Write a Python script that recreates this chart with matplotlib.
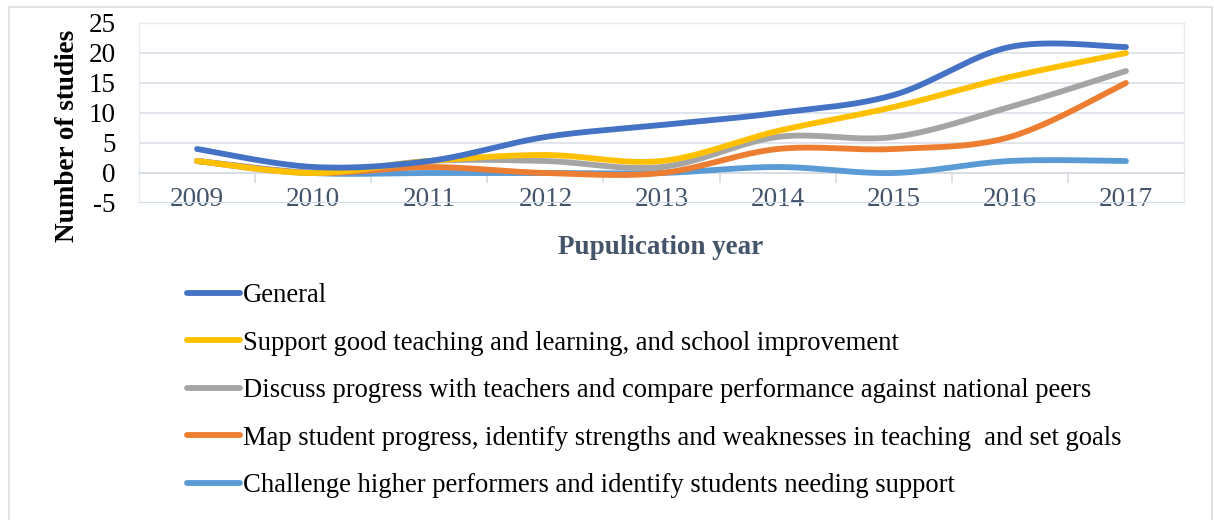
import numpy as np
import matplotlib
matplotlib.use("Agg")
import matplotlib.pyplot as plt
from matplotlib.patches import Rectangle
from matplotlib.ticker import FixedLocator

years = ["2009", "2010", "2011", "2012", "2013", "2014", "2015", "2016", "2017"]
general = [4, 1, 2, 6, 8, 10, 13, 21, 21]
support = [2, 0, 2, 3, 2, 7, 11, 16, 20]
discuss = [2, 0, 2, 2, 1, 6, 6, 11, 17]
mapping = [2, 0, 1, 0, 0, 4, 4, 6, 15]
challenge = [2, 0, 0, 0, 0, 1, 0, 2, 2]

labels = [
    "General",
    "Support good teaching and learning, and school improvement",
    "Discuss progress with teachers and compare performance against national peers",
    "Map student progress, identify strengths and weaknesses in teaching  and set goals",
    "Challenge higher performers and identify students needing support",
]
series = [general, support, discuss, mapping, challenge]
colors = ["#4472C4", "#FFC000", "#A5A5A5", "#ED7D31", "#5B9BD5"]


def smooth(y, n=40):
    y = np.asarray(y, float)
    x = np.arange(len(y), dtype=float)
    xs, ys = [], []
    for i in range(len(y) - 1):
        p0 = np.array([x[max(i - 1, 0)], y[max(i - 1, 0)]])
        p1 = np.array([x[i], y[i]])
        p2 = np.array([x[i + 1], y[i + 1]])
        p3 = np.array([x[min(i + 2, len(y) - 1)], y[min(i + 2, len(y) - 1)]])
        c1 = p1 + (p2 - p0) / 6.0
        c2 = p2 - (p3 - p1) / 6.0
        t = np.linspace(0, 1, n)[:, None]
        b = ((1 - t) ** 3) * p1 + 3 * ((1 - t) ** 2) * t * c1 + 3 * (1 - t) * t ** 2 * c2 + t ** 3 * p2
        xs.append(b[:, 0]); ys.append(b[:, 1])
    return np.concatenate(xs), np.concatenate(ys)


plt.rcParams["font.family"] = ["Liberation Serif", "DejaVu Serif"]
plt.rcParams["axes.unicode_minus"] = False
W, H = 1214, 520
fig = plt.figure(figsize=(W / 100, H / 100), dpi=100)
fig.patches.append(Rectangle((9 / W, -0.05), (1212 - 9) / W, 1 - 7 / H + 0.05,
                             transform=fig.transFigure, fill=False,
                             edgecolor="#D9DEE4", linewidth=1.2))

ax = fig.add_axes([139 / W, 1 - 203 / H, (1184 - 139) / W, (203 - 23) / H])
ax.set_xlim(-0.5, len(years) - 0.5)
ax.set_ylim(-5, 25)
ax.set_yticks(np.arange(-5, 26, 5))
ax.grid(axis="y", color="#DDE3EA", linewidth=1.3)
ax.set_axisbelow(True)
for s in ["top", "right", "left"]:
    ax.spines[s].set_color("#E6EBF0")
    ax.spines[s].set_linewidth(1)
ax.spines["bottom"].set_position(("data", 0))
ax.spines["bottom"].set_color("#D9DEE4")
ax.spines["bottom"].set_linewidth(1.3)
ax.axhline(-5, color="#C8D9EC", linewidth=2, zorder=1)

ax.set_xticks(range(len(years)))
ax.set_xticklabels(years, fontsize=19.5, color="#44546A")
ax.tick_params(axis="x", which="major", length=0, pad=10)
ax.xaxis.set_minor_locator(FixedLocator(np.arange(0.5, len(years) - 1, 1)))
ax.tick_params(axis="x", which="minor", length=7, width=1.3, color="#D9DEE4", direction="out")
ax.tick_params(axis="y", length=0, labelsize=19.5, labelcolor="#000000", pad=17)

handles = []
for k, (vals, c, lab) in enumerate(zip(series, colors, labels)):
    xs, ys = smooth(vals)
    h, = ax.plot(xs, ys, color=c, linewidth=4.2, solid_capstyle="round",
                 label=lab, zorder=10 - k)
    handles.append(h)

fig.text(661 / W, 1 - 247 / H, "Pupulication year", ha="center", va="center",
         fontsize=19.5, fontweight="bold", color="#44546A")
fig.text(67 / W, 1 - 136 / H, "Number of studies", ha="center", va="center",
         rotation=90, fontsize=19.5, fontweight="bold", color="#000000")

leg = fig.legend(handles, labels, loc="upper left",
                 bbox_to_anchor=(163 / W, 1 - 259 / H), frameon=False,
                 fontsize=19.2, handlelength=2.0, handletextpad=0.1,
                 labelspacing=0.845)
for t in leg.get_texts():
    t.set_color("#000000")

fig.savefig("out.png", dpi=100)
